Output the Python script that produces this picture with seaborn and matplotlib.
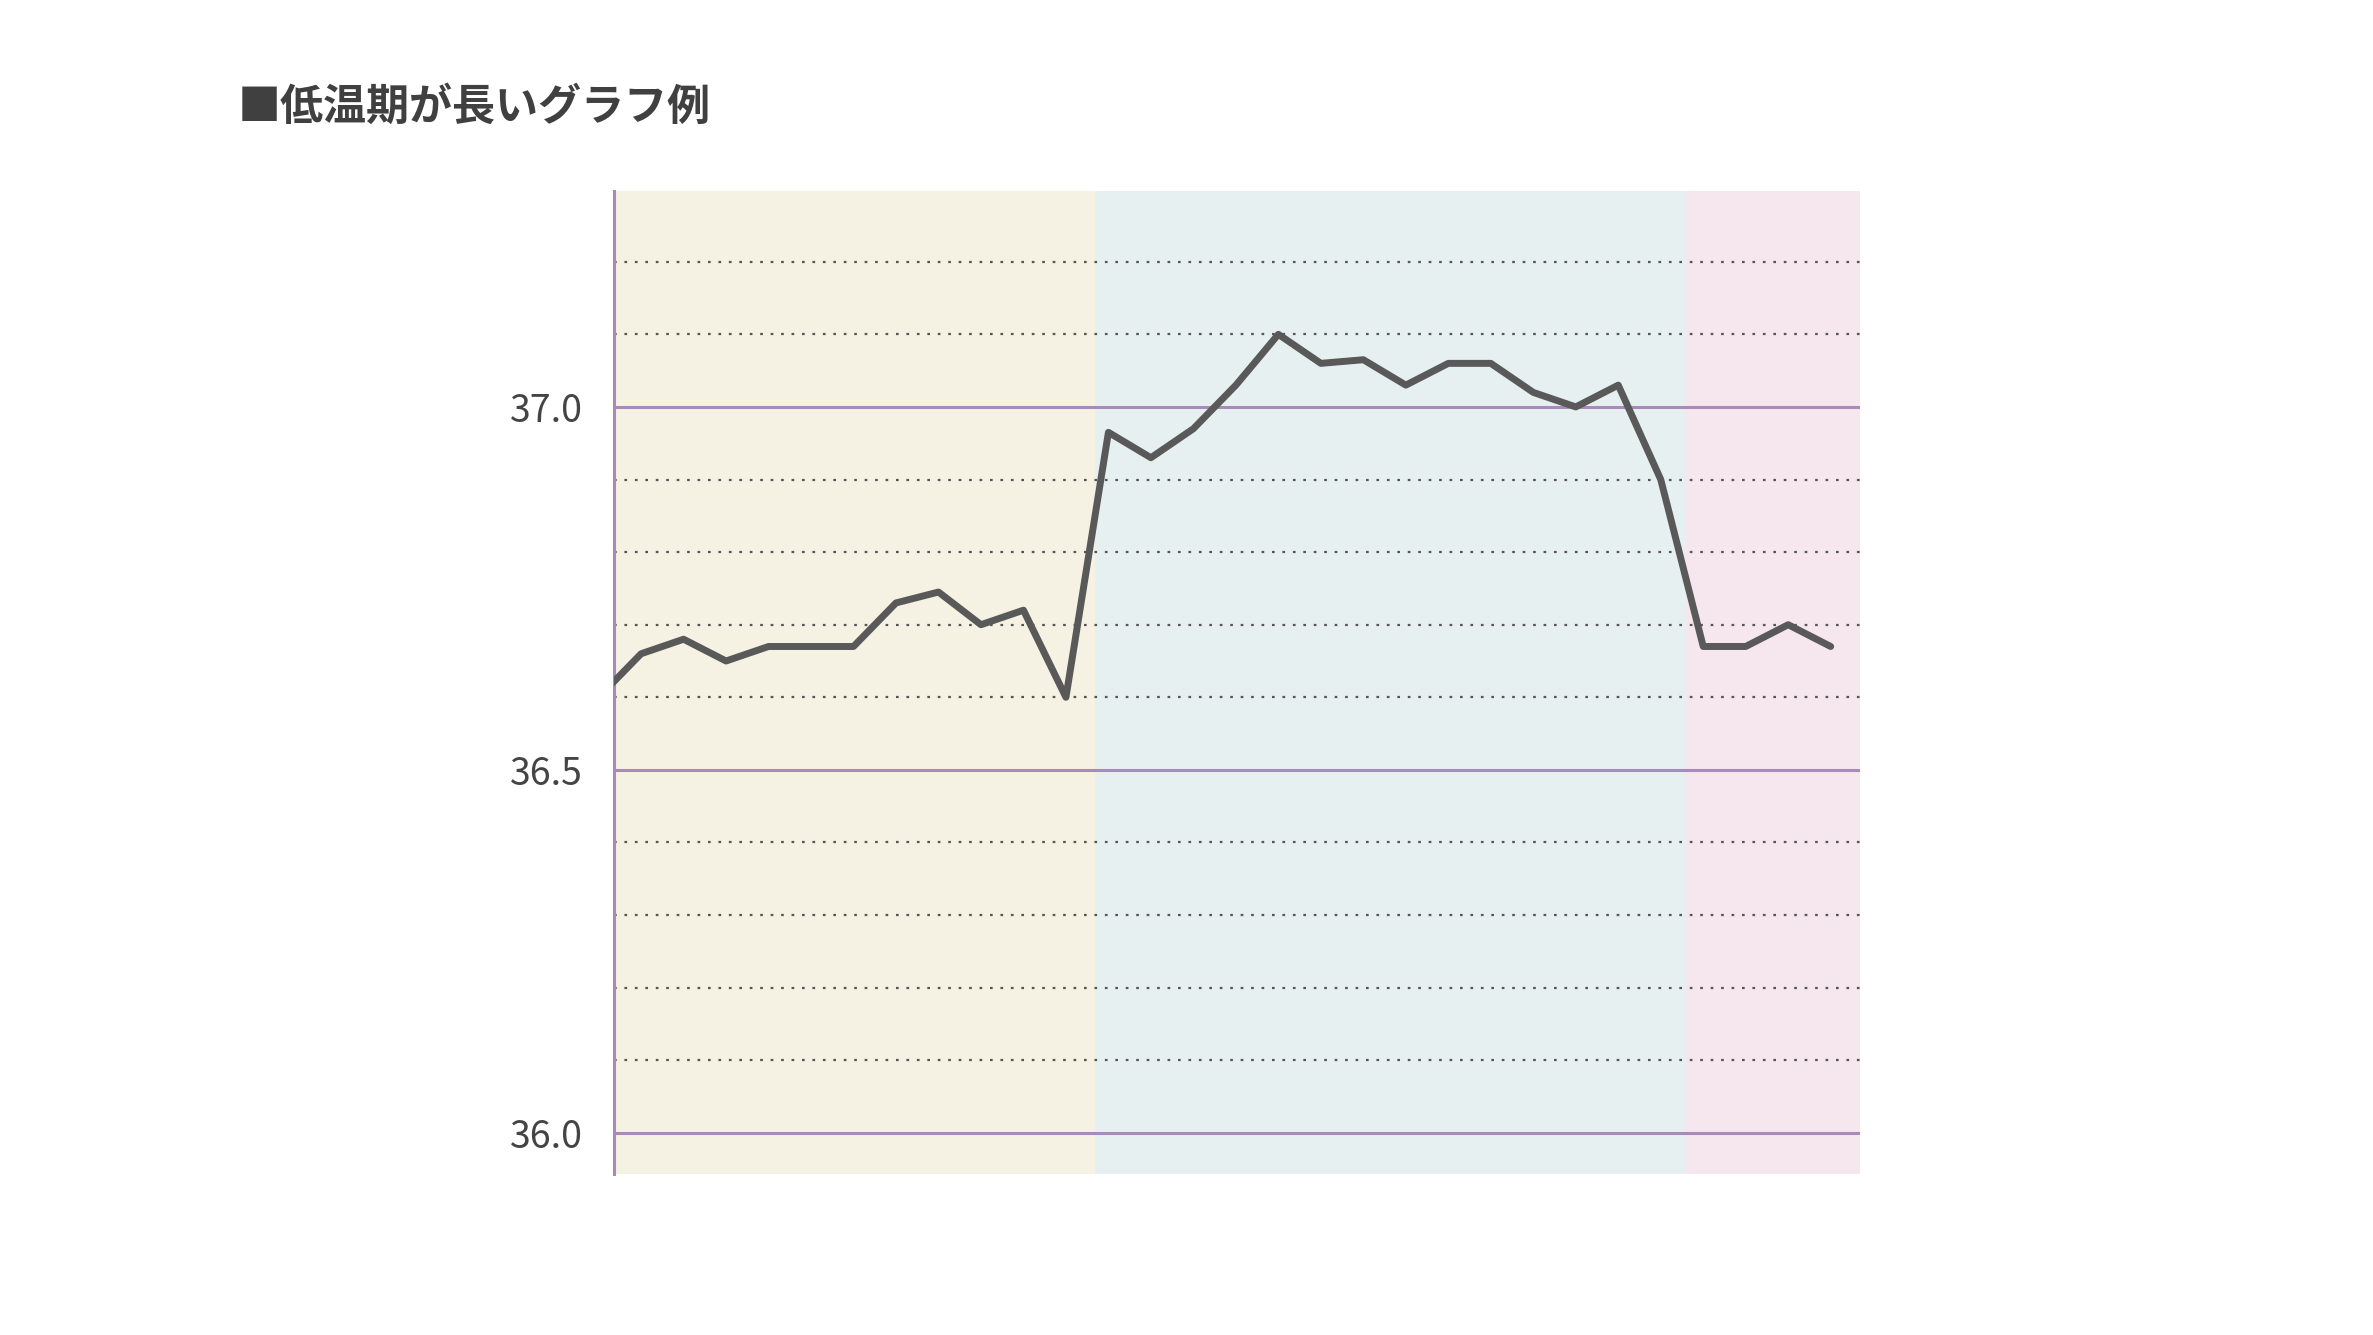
import matplotlib
matplotlib.use("Agg")
import matplotlib.pyplot as plt
import seaborn as sns
import pandas as pd
import numpy as np

days = list(range(30))
temps = [36.60, 36.66, 36.68, 36.65, 36.67, 36.67, 36.67, 36.73, 36.745, 36.70,
         36.72, 36.60, 36.965, 36.93, 36.97, 37.03, 37.10, 37.06, 37.065, 37.03,
         37.06, 37.06, 37.02, 37.00, 37.03, 36.90, 36.67, 36.67, 36.70, 36.67]
major_ticks = [36.0, 36.5, 37.0]
major_labels = ["36.0", "36.5", "37.0"]
minor_ticks = [36.1, 36.2, 36.3, 36.4, 36.6, 36.7, 36.8, 36.9, 37.1, 37.2]
bands = [(0.36, 11.68, "#f5f1e3"), (11.68, 25.6, "#e6f0f1"), (25.6, 29.7, "#f6e6ee")]
title = "■低温期が長いグラフ例"

sns.set_style("white")
plt.rcParams['font.family'] = ['Noto Sans CJK JP', 'DejaVu Sans']

fig = plt.figure(figsize=(23.73, 13.35), dpi=100)
ax = fig.add_axes([0.2587, 0.1204, 0.784 - 0.2587, 0.8567 - 0.1204])
for a, b, c in bands:
    ax.axvspan(a, b, color=c, lw=0, zorder=0)
for y in minor_ticks:
    ax.axhline(y, color="#555555", lw=1.6, ls=(0, (1.2, 3.5)), zorder=1)
for y in major_ticks:
    ax.axhline(y, color="#a98bbb", lw=2.2, zorder=1)

df = pd.DataFrame({"day": days, "temp": temps})
sns.lineplot(data=df, x="day", y="temp", ax=ax, color="#595959", lw=5, zorder=3)

ax.set_xlim(0.36, 29.7)
ax.set_ylim(35.943, 37.297)
ax.set_yticks(major_ticks)
ax.set_yticklabels(major_labels, fontsize=27, color="#444444")
ax.tick_params(axis="y", length=0, pad=22)
ax.set_xticks([])
ax.set_xlabel("")
ax.set_ylabel("")
for s in ["top", "right", "bottom"]:
    ax.spines[s].set_visible(False)
ax.spines["left"].set_color("#a98bbb")
ax.spines["left"].set_linewidth(2.2)

fig.text(0.1, 0.92, title, fontsize=31, color="#404040", fontweight="bold", va="center")
fig.savefig("out.png", dpi=100, facecolor="white")
